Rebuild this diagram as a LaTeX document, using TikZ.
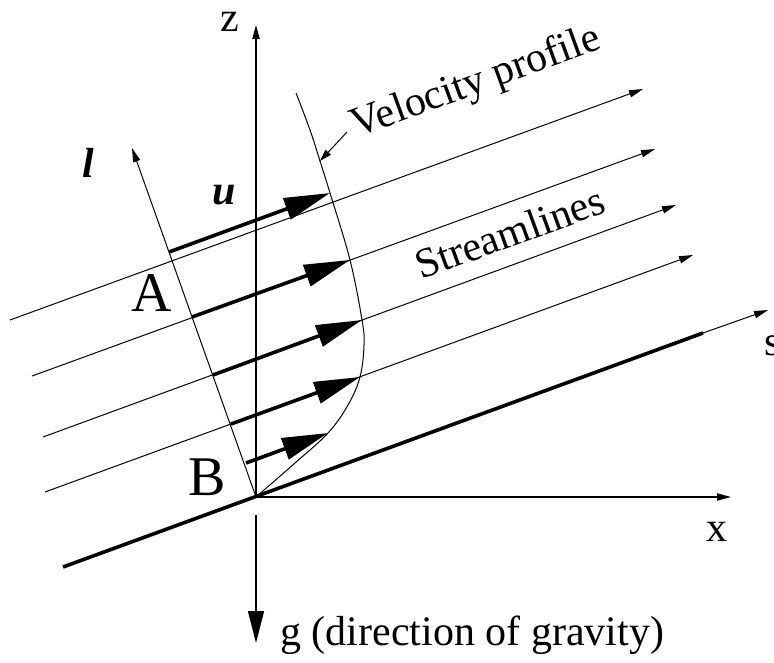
\documentclass[tikz,border=0pt]{standalone}
\usepackage{fontspec}
\setmainfont{Liberation Serif}
\usetikzlibrary{arrows.meta}
\begin{document}
\begin{tikzpicture}[x=0.5pt,y=-0.5pt,
  thinline/.style={line width=0.5pt},
  axisline/.style={line width=0.8pt},
  smalltip/.style={-{Triangle[length=7pt,width=3.6pt]}},
  velarrow/.style={line width=1.8pt,-{Triangle[length=23pt,width=11pt]}},
  lbl/.style={font=\fontsize{21pt}{24pt}\selectfont, inner sep=0pt},
  biglbl/.style={font=\fontsize{28pt}{32pt}\selectfont, inner sep=0pt},
]
\useasboundingbox (0,0) rectangle (774,662);

% key points
\coordinate (O) at (256,497);
\coordinate (ztop) at (256,25);
\coordinate (gstart) at (256,515);
\coordinate (gtip) at (256,643);
\coordinate (xtip) at (731,497);
\coordinate (planeL) at (63,567);
\coordinate (planeR) at (703,333);
\coordinate (stip) at (768,310);
\coordinate (ltip) at (132,148);

% streamlines
\coordinate (s1a) at (10,320);  \coordinate (s1b) at (643,89);
\coordinate (s2a) at (32,376);  \coordinate (s2b) at (655,149);
\coordinate (s3a) at (43,437);  \coordinate (s3b) at (676,205);
\coordinate (s4a) at (45,492);  \coordinate (s4b) at (693,255);

% velocity arrows
\coordinate (v1a) at (169,252); \coordinate (v1b) at (330,193);
\coordinate (v2a) at (192,317); \coordinate (v2b) at (350,260);
\coordinate (v3a) at (213,375); \coordinate (v3b) at (362,320);
\coordinate (v4a) at (231,424); \coordinate (v4b) at (360,377);
\coordinate (v5a) at (246,463); \coordinate (v5b) at (328,433);

% leader
\coordinate (leadA) at (347,132);
\coordinate (leadB) at (320,161);

% axes
\draw[axisline,smalltip] (O) -- (ztop);
\draw[axisline,-{Triangle[length=16pt,width=8pt]}] (gstart) -- (gtip);
\draw[axisline,smalltip] (O) -- (xtip);

% inclined plane
\draw[line width=1.8pt] (planeL) -- (planeR);
\draw[thinline,smalltip] (planeR) -- (stip);

% l axis
\draw[thinline,smalltip] (O) -- (ltip);

% streamlines
\draw[thinline,smalltip] (s1a) -- (s1b);
\draw[thinline,smalltip] (s2a) -- (s2b);
\draw[thinline,smalltip] (s3a) -- (s3b);
\draw[thinline,smalltip] (s4a) -- (s4b);

% velocity profile
\draw[thinline] plot[smooth,tension=0.6] coordinates {(296,93) (310,130) (320,161) (330,193) (350,260) (362,320) (364,345) (360,377) (348,405) (328,433) (295,463) (256,497)};

% velocity arrows
\draw[velarrow] (v1a) -- (v1b);
\draw[velarrow] (v2a) -- (v2b);
\draw[velarrow] (v3a) -- (v3b);
\draw[velarrow] (v4a) -- (v4b);
\draw[velarrow] (v5a) -- (v5b);

% leader arrow
\draw[thinline,-{Triangle[length=6pt,width=3.6pt]}] (leadA) -- (leadB);

% labels
\node[lbl] (zl) at (230,22) {z};
\node[lbl] (ll) at (88,163) {\textbf{\textit{l}}};
\node[lbl] (ul) at (224,195) {\textbf{\textit{u}}};
\node[biglbl] (Al) at (152,293) {A};
\node[biglbl] (Bl) at (207,477) {B};
\node[lbl] (xl) at (717,532) {x};
\node[lbl] (sl) at (773,346) {s};
\node[lbl,anchor=base west] (gl) at (280,645) {g (direction of gravity)};
\node[lbl,anchor=base west,rotate=20] (vp) at (356,138) {Velocity profile};
\node[lbl,anchor=base west,rotate=20] (st) at (421,280) {Streamlines};
\end{tikzpicture}
\end{document}
